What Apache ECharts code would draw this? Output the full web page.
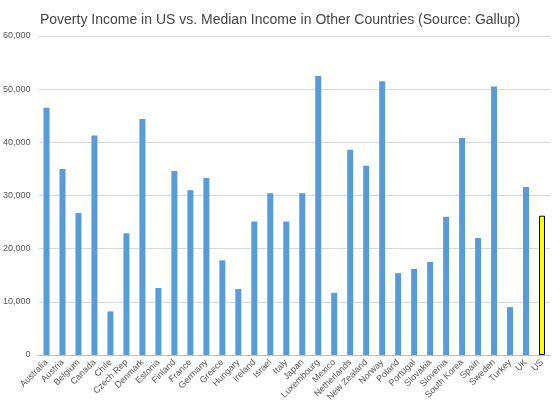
<!DOCTYPE html>
<html>
<head>
<meta charset="utf-8" />
<script src="https://cdn.jsdelivr.net/npm/echarts@6/dist/echarts.min.js"></script>
<style>
  html,body{margin:0;padding:0;background:#fff;}
  #chart{width:560px;height:407px;}
</style>
</head>
<body>
<div id="chart"></div>
<script>
var countries = ['Australia','Austria','Belgium','Canada','Chile','Czech Rep','Denmark','Estonia','Finland','France','Germany','Greece','Hungary','Ireland','Israel','Italy','Japan','Luxembourg','Mexico','Netherlands','New Zealand','Norway','Poland','Portugal','Slovakia','Slovenia','South Korea','Spain','Sweden','Turkey','UK','US'];
var incomes = [46500,35000,26700,41300,8200,22900,44400,12600,34600,31000,33300,17800,12400,25100,30400,25100,30400,52500,11700,38600,35600,51500,15400,16200,17500,26000,40800,22000,50500,9000,31600,26200];
var highlight = 'US';

var chart = echarts.init(document.getElementById('chart'));
chart.setOption({
  animation: false,
  title: {
    text: 'Poverty Income in US vs. Median Income in Other Countries (Source: Gallup)',
    left: 'center', top: 8,
    textStyle: {fontSize: 14, fontWeight: 'normal', color: '#444', fontFamily: 'Liberation Sans'}
  },
  grid: {left: 37, right: 10, top: 36, bottom: 52},
  xAxis: {
    type: 'category',
    data: countries,
    axisTick: {show: false},
    axisLine: {lineStyle: {color: '#bfbfbf'}},
    axisLabel: {rotate: 45, interval: 0, fontSize: 9, color: '#555', fontFamily: 'Liberation Sans', margin: 6}
  },
  yAxis: {
    type: 'value', min: 0, max: 60000, interval: 10000,
    axisLabel: {fontSize: 9, color: '#555', fontFamily: 'Liberation Sans',
      formatter: function (v) { return v.toLocaleString('en-US'); }},
    splitLine: {lineStyle: {color: '#d9d9d9'}}
  },
  series: [{
    type: 'bar',
    barWidth: 6,
    data: countries.map(function (c, i) {
      if (c === highlight) {
        return {value: incomes[i], itemStyle: {color: '#ffff00', borderColor: '#000', borderWidth: 1}};
      }
      return {value: incomes[i], itemStyle: {color: '#5b9bd5'}};
    })
  }]
});
</script>
</body>
</html>
